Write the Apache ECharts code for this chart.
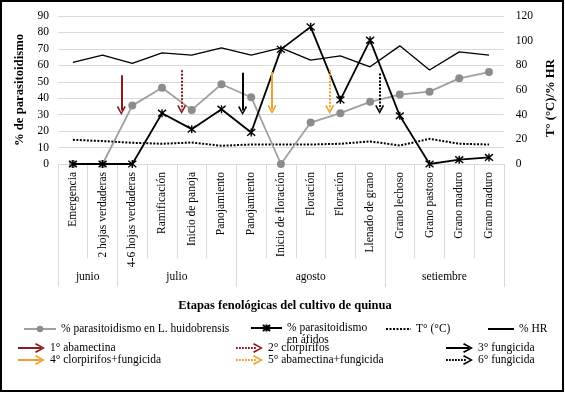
<!DOCTYPE html>
<html>
<head>
<meta charset="utf-8">
<script src="https://cdn.jsdelivr.net/npm/echarts@6/dist/echarts.min.js"></script>
<style>
html,body{margin:0;padding:0;background:#fff;}
#chart{position:absolute;left:0;top:0;width:565px;height:394px;}
#frame{position:absolute;left:0;top:0;width:560px;height:388px;border:2px solid #000;pointer-events:none;}
</style>
</head>
<body>
<div id="chart"></div>
<div id="frame"></div>
<script>
// ---- data ----
const categories = ['Emergencia','2 hojas verdaderas','4-6 hojas verdaderas','Ramificación','Inicio de panoja','Panojamiento','Panojamiento','Inicio de floración','Floración','Floración','Llenado de grano','Grano lechoso','Grano pastoso','Grano maduro','Grano maduro'];
const months = ['junio','julio','agosto','setiembre'];
const monthStart = [0, 2, 6, 11];
const monthEnd = [2, 6, 11, 15];
const leafminerParasitism = [0, 0, 35.5, 46.4, 32.9, 48.5, 40.6, 0, 25.2, 30.9, 37.8, 42.2, 44, 52.1, 55.9];
const aphidParasitism = [0, 0, 0, 30.9, 21.2, 33.3, 19.2, 69.7, 83.4, 39, 75.3, 29.3, 0, 2.6, 4.0];
const temperature = [19.6, 18.6, 17.2, 16.4, 17.4, 14.8, 15.8, 15.8, 15.8, 16.4, 18.3, 15.0, 20.4, 16.4, 15.8];
const humidity = [82.4, 88.3, 81.6, 90.1, 88.3, 94.2, 88.3, 94.2, 84.2, 87.7, 78.8, 95.8, 76.2, 90.9, 88.3];
const leftTicks = [0, 90, 10];
const rightTicks = [0, 120, 20];
// applications (arrows): position on stage scale, start and end on % axis
const arrowNames = ['1° abamectina','2° clorpirifos','3° fungicida','4° clorpirifos+fungicida','5° abamectina+fungicida','6° fungicida'];
const arrowX = [2.13, 4.16, 6.21, 7.2, 9.14, 10.82];
const arrowTop = [54, 57, 55.5, 56, 57, 55];
const arrowEnd = [32.5, 33.2, 32.5, 33.2, 33.2, 33.2];

// ---- styles ----
const FONT = '"Liberation Serif", "Times New Roman", serif';
const arrowColors = ['#8B1A1A','#8B1A1A','#000000','#F0A028','#F0A028','#000000'];
const arrowTypes = ['solid','dotted','solid','solid','dotted','dotted'];
const chevron = 'path://M0,9 L5,0 L10,9 L8.4,10 L5,3.2 L1.6,10 Z';
const starPath = 'path://M0,0 L10,10 M10,0 L0,10 M5,-1 L5,11';
const headPath = ' M18,0 L27,5 L18,10 L17,8.6 L24,5 L17,1.4 Z';
const solidArrowIcon = 'path://M0,4.1 L23,4.1 L23,5.9 L0,5.9 Z' + headPath;
let dots = '';
for (let x = 0; x < 21; x += 3) dots += ' M' + x + ',4.1 L' + (x + 1.8) + ',4.1 L' + (x + 1.8) + ',5.9 L' + x + ',5.9 Z';
const dottedArrowIcon = 'path://' + dots + headPath;

const chart = echarts.init(document.getElementById('chart'), null, {renderer: 'canvas'});

const arrowSeries = arrowNames.map((n, i) => ({
  name: n,
  type: 'lines',
  coordinateSystem: 'cartesian2d',
  xAxisIndex: 1,
  yAxisIndex: 0,
  z: 5,
  symbol: ['none', chevron],
  symbolSize: 9,
  lineStyle: {color: arrowColors[i], width: 2, type: arrowTypes[i] === 'dotted' ? [2, 1.5] : 'solid', opacity: 1, curveness: 0},
  itemStyle: {color: arrowColors[i]},
  data: [{coords: [[arrowX[i], arrowTop[i]], [arrowX[i], arrowEnd[i]]]}]
}));

function arrowLegend(idxs, left) {
  return {
    orient: 'vertical', left: left, top: 342, padding: 0, itemGap: 0,
    itemWidth: 27, itemHeight: 10, selectedMode: false,
    textStyle: {fontFamily: FONT, fontSize: 11.5, color: '#000', lineHeight: 12},
    data: idxs.map(i => ({
      name: arrowNames[i],
      icon: arrowTypes[i] === 'dotted' ? dottedArrowIcon : solidArrowIcon,
      itemStyle: {color: arrowColors[i], borderWidth: 0}
    }))
  };
}

const legendText = {fontFamily: FONT, fontSize: 11.5, color: '#000'};

const option = {
  animation: false,
  backgroundColor: '#fff',
  grid: {left: 58, right: 55, top: 16, bottom: 230, containLabel: false},
  xAxis: [
    {
      type: 'category', data: categories, boundaryGap: true, position: 'bottom',
      axisLine: {show: true, lineStyle: {color: '#d9d9d9', width: 1}},
      axisTick: {show: true, interval: 0, length: 94, alignWithLabel: false, lineStyle: {color: '#d9d9d9'}},
      axisLabel: {interval: 0, rotate: 90, margin: 8, fontFamily: FONT, fontSize: 11.5, color: '#000'},
      splitLine: {show: false}
    },
    {
      type: 'value', min: 0, max: 15, position: 'bottom',
      axisLine: {show: false},
      axisTick: {show: true, length: 123, customValues: monthStart.concat([monthEnd[monthEnd.length - 1]]), lineStyle: {color: '#d9d9d9'}},
      axisLabel: {
        show: true, margin: 107, fontFamily: FONT, fontSize: 11.5, color: '#000',
        customValues: monthStart.map((s, i) => (s + monthEnd[i]) / 2),
        formatter: v => { const i = monthStart.findIndex((s, k) => Math.abs((s + monthEnd[k]) / 2 - v) < 1e-6); return i >= 0 ? months[i] : ''; }
      },
      splitLine: {show: false},
      name: 'Etapas fenológicas del cultivo de quinua', nameLocation: 'middle', nameGap: 135,
      nameTextStyle: {fontFamily: FONT, fontSize: 12.5, fontWeight: 'bold', color: '#000', padding: [0, 0, 0, 8]}
    }
  ],
  yAxis: [
    {
      type: 'value', min: leftTicks[0], max: leftTicks[1], interval: leftTicks[2], position: 'left',
      axisLine: {show: false}, axisTick: {show: false},
      axisLabel: {margin: 9, fontFamily: FONT, fontSize: 11.5, color: '#000'},
      splitLine: {show: true, lineStyle: {color: '#d9d9d9', width: 1}},
      name: '% de parasitoidismo', nameLocation: 'middle', nameRotate: 90, nameGap: 28,
      nameTextStyle: {fontFamily: FONT, fontSize: 12.7, fontWeight: 'bold', color: '#000'}
    },
    {
      type: 'value', min: rightTicks[0], max: rightTicks[1], interval: rightTicks[2], position: 'right',
      axisLine: {show: false}, axisTick: {show: false},
      axisLabel: {margin: 12, fontFamily: FONT, fontSize: 11.5, color: '#000'},
      splitLine: {show: false},
      name: 'T° (°C)/% HR', nameLocation: 'middle', nameRotate: 90, nameGap: 36,
      nameTextStyle: {fontFamily: FONT, fontSize: 12.7, fontWeight: 'bold', color: '#000', padding: [0, 16, 0, 0]}
    }
  ],
  legend: [
    {left: 23, top: 323, padding: 0, itemWidth: 32, itemHeight: 8, selectedMode: false, textStyle: legendText,
     data: ['% parasitoidismo en L. huidobrensis']},
    {left: 250, top: 310, padding: 0, itemWidth: 31, itemHeight: 9, selectedMode: false,
     textStyle: Object.assign({lineHeight: 12}, legendText),
     formatter: n => ' \n' + n.replace(' en ', '\nen '),
     data: ['% parasitoidismo en áfidos']},
    {left: 385, top: 323, padding: 0, itemWidth: 25, itemHeight: 8, selectedMode: false, textStyle: legendText,
     data: [{name: 'T° (°C)', itemStyle: {opacity: 0}}]},
    {left: 487, top: 323, padding: 0, itemWidth: 26, itemHeight: 8, selectedMode: false, textStyle: legendText,
     data: [{name: '% HR', itemStyle: {opacity: 0}}]},
    arrowLegend([0, 3], 18),
    arrowLegend([1, 4], 236),
    arrowLegend([2, 5], 446)
  ],
  series: [
    {
      name: 'T° (°C)', type: 'line', xAxisIndex: 0, yAxisIndex: 1, data: temperature,
      showSymbol: false, symbol: 'none', z: 2,
      lineStyle: {color: '#000', width: 2, type: [2, 1.5]}, itemStyle: {color: '#000'}
    },
    {
      name: '% HR', type: 'line', xAxisIndex: 0, yAxisIndex: 1, data: humidity,
      showSymbol: false, symbol: 'none', z: 2,
      lineStyle: {color: '#000', width: 1.3}, itemStyle: {color: '#000'}
    },
    {
      name: '% parasitoidismo en L. huidobrensis', type: 'line', xAxisIndex: 0, yAxisIndex: 0, data: leafminerParasitism,
      symbol: 'circle', symbolSize: 8, z: 3,
      lineStyle: {color: '#a0a0a0', width: 1.8}, itemStyle: {color: '#8c8c8c', borderWidth: 0}
    },
    {
      name: '% parasitoidismo en áfidos', type: 'line', xAxisIndex: 0, yAxisIndex: 0, data: aphidParasitism,
      symbol: starPath, symbolSize: 8, z: 4,
      lineStyle: {color: '#000', width: 1.8},
      itemStyle: {color: 'rgba(0,0,0,0)', borderColor: '#000', borderWidth: 1.4}
    }
  ].concat(arrowSeries)
};
chart.setOption(option);
</script>
</body>
</html>
